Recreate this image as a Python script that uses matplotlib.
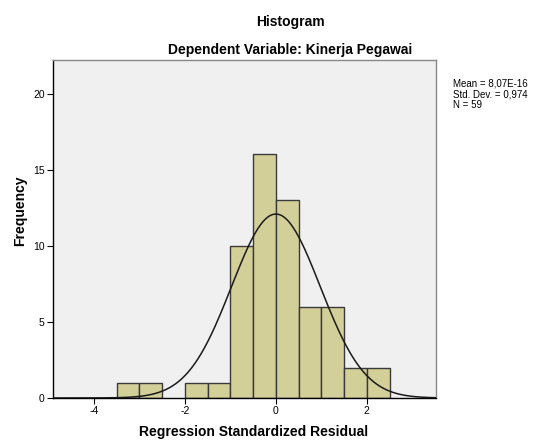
import matplotlib
matplotlib.use('Agg')
import matplotlib.pyplot as plt
import numpy as np

plt.rcParams['font.family'] = ['Liberation Sans', 'DejaVu Sans']
plt.rcParams['axes.unicode_minus'] = False

bin_edges = [-3.5, -3.0, -2.5, -2.0, -1.5, -1.0, -0.5, 0.0, 0.5, 1.0, 1.5, 2.0, 2.5]
counts = [1, 1, 0, 1, 1, 10, 16, 13, 6, 6, 2, 2]
mean = 8.07e-16
std_dev = 0.974
n = 59
bin_width = 0.5

fig = plt.figure(figsize=(5.42, 4.4), dpi=100)
ax = fig.add_axes([0.0978, 0.0955, 0.7066, 0.7681])
ax.set_facecolor('#f0f0f0')

lefts = np.array(bin_edges[:-1])
for x0, c in zip(lefts, counts):
    if c > 0:
        ax.bar(x0, c, width=bin_width, align='edge', color='#d3cf98',
               edgecolor='#3a3a3a', linewidth=1.0, zorder=2)

# normal curve scaled to counts
xs = np.linspace(-4.9, 3.52, 400)
ys = n * bin_width / (std_dev * np.sqrt(2 * np.pi)) * np.exp(-0.5 * ((xs - mean) / std_dev) ** 2)
ax.plot(xs, ys, color='#1a1a1a', linewidth=1.1, zorder=3)

ax.set_xlim(-4.9, 3.52)
ax.set_ylim(0, 22.2)
ax.set_xticks([-4, -2, 0, 2])
ax.set_yticks([0, 5, 10, 15, 20])
ax.tick_params(labelsize=7.5, length=4, width=0.8, direction='out', pad=2)
for side in ['left', 'bottom']:
    ax.spines[side].set_color('black')
    ax.spines[side].set_linewidth(1.0)
for side in ['top', 'right']:
    ax.spines[side].set_color('#888888')
    ax.spines[side].set_linewidth(1.0)

fig.text(0.535, 0.949, 'Histogram', ha='center', va='center', fontsize=10, fontweight='bold')
fig.text(0.535, 0.887, 'Dependent Variable: Kinerja Pegawai', ha='center', va='center',
         fontsize=10, fontweight='bold')
fig.text(0.467, 0.018, 'Regression Standardized Residual', ha='center', va='center',
         fontsize=10, fontweight='bold')
fig.text(0.037, 0.52, 'Frequency', ha='center', va='center', rotation=90,
         fontsize=10, fontweight='bold')

fig.text(0.836, 0.786, 'Mean = 8,07E-16\nStd. Dev. = 0,974\nN = 59', ha='left', va='center',
         fontsize=7, linespacing=1.05)

fig.savefig('out.png', dpi=100)
